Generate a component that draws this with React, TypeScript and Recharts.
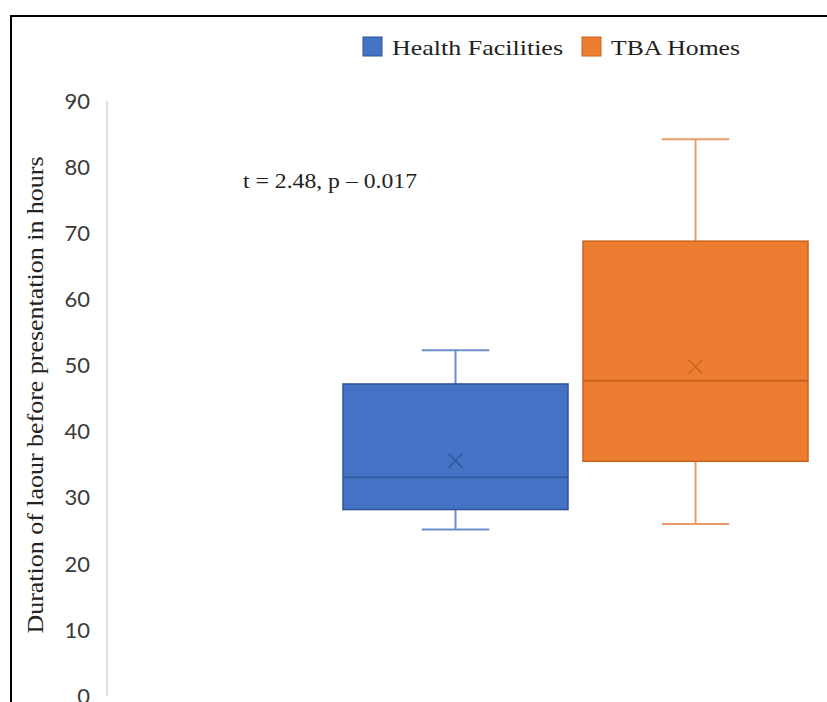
import { ComposedChart, Bar, XAxis, YAxis, Legend, Customized } from "recharts";

// five-number summaries: min, q1, median, q3, max
const categories = ["Place of labour"];
const seriesNames = ["Health Facilities", "TBA Homes"];
const healthFacilities = [25.2, 28.2, 33.1, 47.2, 52.3];
const healthFacilitiesMean = 35.6;
const tbaHomes = [26.0, 35.5, 47.7, 68.8, 84.2];
const tbaHomesMean = 49.8;
const yTicks = [0, 10, 20, 30, 40, 50, 60, 70, 80, 90];

const data = [
  {
    cat: categories[0],
    hf: [healthFacilities[1], healthFacilities[3]],
    tba: [tbaHomes[1], tbaHomes[3]],
  },
];

const BLUE = { fill: "#4472C4", edge: "#2F5597", whisker: "#6C8ECD", mid: "#34599F" };
const ORANGE = { fill: "#ED7D31", edge: "#C8641F", whisker: "#EC9C6A", mid: "#C9641F" };

function makeBoxShape(five: number[], mean: number, c: typeof BLUE) {
  return (props: any) => {
    const { x, y, width, height } = props;
    const [mn, q1, med, q3, mx] = five;
    const top = Math.min(y, y + height);
    const h = Math.abs(height);
    const unit = h / (q3 - q1);
    const py = (v: number) => top + (q3 - v) * unit;
    const cx = x + width / 2;
    const cap = width * 0.3;
    const my = py(mean);
    const m = 7;
    return (
      <g>
        <line x1={cx} x2={cx} y1={py(mx)} y2={py(q3)} stroke={c.whisker} strokeWidth={2} />
        <line x1={cx} x2={cx} y1={py(q1)} y2={py(mn)} stroke={c.whisker} strokeWidth={2} />
        <line x1={cx - cap / 2} x2={cx + cap / 2} y1={py(mx)} y2={py(mx)} stroke={c.whisker} strokeWidth={2} />
        <line x1={cx - cap / 2} x2={cx + cap / 2} y1={py(mn)} y2={py(mn)} stroke={c.whisker} strokeWidth={2} />
        <rect x={x} y={top} width={width} height={h} fill={c.fill} stroke={c.edge} strokeWidth={1.5} />
        <line x1={x} x2={x + width} y1={py(med)} y2={py(med)} stroke={c.mid} strokeWidth={2} />
        <line x1={cx - m} x2={cx + m} y1={my - m} y2={my + m} stroke={c.mid} strokeWidth={1.5} />
        <line x1={cx - m} x2={cx + m} y1={my + m} y2={my - m} stroke={c.mid} strokeWidth={1.5} />
      </g>
    );
  };
}

const renderLegend = (props: any) => {
  const items = props.payload || [];
  const spots = [
    { rx: 8, tx: 37, len: 171 },
    { rx: 227, tx: 256, len: 129 },
  ];
  return (
    <svg width={420} height={32}>
      {items.map((it: any, i: number) => (
        <g key={it.value}>
          <rect x={spots[i].rx} y={7} width={19} height={19} fill={it.color} stroke={i === 0 ? BLUE.edge : ORANGE.edge} strokeWidth={1} />
          <text
            x={spots[i].tx}
            y={25}
            fontFamily="'Liberation Serif', 'Times New Roman', serif"
            fontSize={22}
            fill="#222"
            textLength={spots[i].len}
            lengthAdjust="spacingAndGlyphs"
          >
            {it.value}
          </text>
        </g>
      ))}
    </svg>
  );
};

const YTitle = () => (
  <text
    x={43}
    y={395}
    transform="rotate(-90 43 395)"
    textAnchor="middle"
    fontFamily="'Liberation Serif', 'Times New Roman', serif"
    fontSize={24}
    fill="#222"
    textLength={477}
    lengthAdjust="spacingAndGlyphs"
  >
    Duration of laour before presentation in hours
  </text>
);

const Note = () => (
  <text
    x={243}
    y={188}
    fontFamily="'Liberation Serif', 'Times New Roman', serif"
    fontSize={22}
    fill="#222"
    textLength={174}
    lengthAdjust="spacingAndGlyphs"
  >
    t = 2.48, p – 0.017
  </text>
);

export default function App() {
  return (
    <div style={{ position: "absolute", left: 0, top: 0, width: 827, height: 702, overflow: "hidden", background: "#fff" }}>
      <div
        style={{
          position: "absolute",
          left: 10,
          top: 15,
          width: 900,
          height: 800,
          borderTop: "2px solid #000",
          borderLeft: "2px solid #000",
        }}
      />
      <div style={{ position: "absolute", left: 0, top: 0 }}>
        <ComposedChart
          width={827}
          height={760}
          data={data}
          margin={{ top: 101, right: 7, bottom: 64, left: 0 }}
          barCategoryGap={13}
          barGap={15}
        >
          <XAxis dataKey="cat" type="category" hide padding={{ left: 223, right: 0 }} />
          <YAxis
            width={107}
            domain={[0, 90]}
            ticks={yTicks}
            interval={0}
            tickLine={false}
            tickMargin={11}
            axisLine={{ stroke: "#D4D4D4", strokeWidth: 1.5 }}
            tick={{ fill: "#3A3A3A", fontSize: 22, fontFamily: "Lato, 'Liberation Sans', sans-serif" }}
            label={<YTitle />}
          />
          <Legend
            layout="horizontal"
            verticalAlign="middle"
            wrapperStyle={{ top: 30, left: 355, width: 420 }}
            content={renderLegend}
          />
          <Bar
            dataKey="hf"
            name={seriesNames[0]}
            fill={BLUE.fill}
            isAnimationActive={false}
            shape={makeBoxShape(healthFacilities, healthFacilitiesMean, BLUE)}
          />
          <Bar
            dataKey="tba"
            name={seriesNames[1]}
            fill={ORANGE.fill}
            isAnimationActive={false}
            shape={makeBoxShape(tbaHomes, tbaHomesMean, ORANGE)}
          />
          <Customized component={Note} />
        </ComposedChart>
      </div>
    </div>
  );
}
